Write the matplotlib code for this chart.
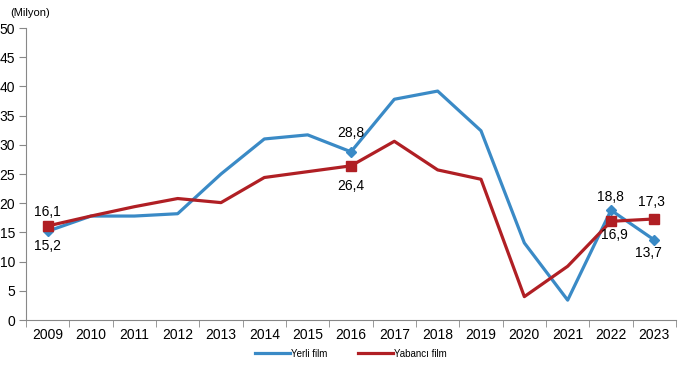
import matplotlib.pyplot as plt
import numpy as np

plt.rcParams["font.family"] = ["Liberation Sans", "DejaVu Sans"]

years = ["2009", "2010", "2011", "2012", "2013", "2014", "2015", "2016",
         "2017", "2018", "2019", "2020", "2021", "2022", "2023"]
yerli = [15.2, 17.8, 17.8, 18.2, 25.0, 31.0, 31.7, 28.8,
         37.8, 39.2, 32.4, 13.2, 3.4, 18.8, 13.7]
yabanci = [16.1, 17.8, 19.4, 20.8, 20.1, 24.4, 25.4, 26.4,
           30.6, 25.7, 24.1, 4.0, 9.2, 16.9, 17.3]

# labelled points: (index, dx px, dy px)
yerli_labels = [(0, 0, -15), (7, 0, 19), (13, -1, 13), (14, -6, -13)]
yabanci_labels = [(0, 0, 14), (7, 0, -20), (13, 3, -14), (14, -3, 17)]

blue = "#3A8AC6"
red = "#B01F24"

fig = plt.figure(figsize=(6.82, 3.68), dpi=100)
ax = fig.add_axes([26 / 682, 48 / 368, 650 / 682, 292 / 368])

x = np.arange(len(years))
ax.plot(x, yerli, color=blue, lw=2.3, label="Yerli film", zorder=3)
ax.plot(x, yabanci, color=red, lw=2.3, label="Yabancı film", zorder=3)

for i, dx, dy in yerli_labels:
    ax.plot(x[i], yerli[i], marker="D", ms=5.5, color=blue, zorder=4)
    ax.annotate(f"{yerli[i]:.1f}".replace(".", ","), (x[i], yerli[i]),
                xytext=(dx * 0.72, dy * 0.72), textcoords="offset points",
                ha="center", va="center", fontsize=10)
for i, dx, dy in yabanci_labels:
    ax.plot(x[i], yabanci[i], marker="s", ms=6.5, color=red, zorder=5)
    ax.annotate(f"{yabanci[i]:.1f}".replace(".", ","), (x[i], yabanci[i]),
                xytext=(dx * 0.72, dy * 0.72), textcoords="offset points",
                ha="center", va="center", fontsize=10)

ax.set_xlim(-0.5, len(years) - 0.5)
ax.set_ylim(0, 50)
ax.set_yticks(range(0, 51, 5))
ax.set_xticks(x)
ax.set_xticklabels(years)
ax.set_xticks(np.arange(-0.5, len(years), 1), minor=True)
ax.tick_params(axis="x", which="major", length=0, pad=6, labelsize=10)
ax.tick_params(axis="x", which="minor", length=5, color="#888888")
ax.tick_params(axis="y", length=5, color="#888888", labelsize=10, pad=3)

for s in ["top", "right"]:
    ax.spines[s].set_visible(False)
for s in ["left", "bottom"]:
    ax.spines[s].set_color("#888888")
    ax.spines[s].set_linewidth(0.8)

fig.text(10 / 682, 1 - 13 / 368, "(Milyon)", fontsize=8, va="center", ha="left")

ax.legend(loc="center", bbox_to_anchor=(0.5, -0.115), ncol=2, frameon=False,
          fontsize=7, handlelength=3.6, handletextpad=0.1, columnspacing=3.2)

fig.savefig("out.png", dpi=100)
